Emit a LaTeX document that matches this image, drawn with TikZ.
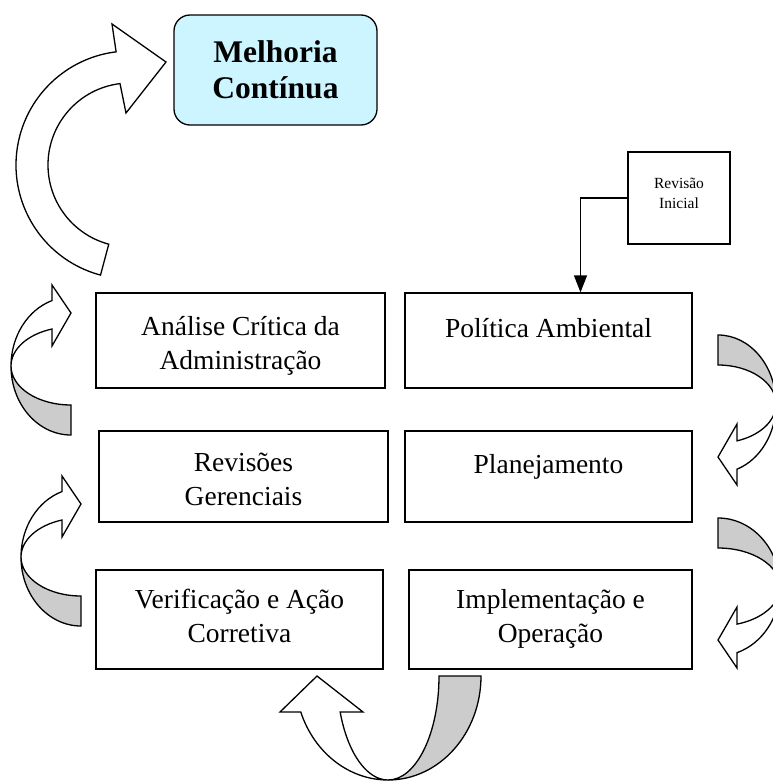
\documentclass[tikz,border=0pt]{standalone}
\usepackage{fontspec}
\setmainfont{Liberation Serif}
\usetikzlibrary{arrows.meta}
\definecolor{mcyan}{HTML}{CCF5FF}
% curved ribbon arrow: #1 A, #2 outer B, #3 inner b, #4 head base x, #5 tip, #6 low corner, #7 high corner
\newcommand{\ribbonarrow}[7]{%
  \pgfmathsetmacro{\rbt}{acos(#4/#1)}
  \filldraw[backface] (-#1,0) arc[start angle=180, end angle=270, x radius=#1pt, y radius=#2pt]
    -- (0,-#3) arc[start angle=270, end angle=180, x radius=#1pt, y radius=#3pt] -- cycle;
  \filldraw[frontface] (-#1,0) arc[start angle=180, end angle=\rbt, x radius=#1pt, y radius=#2pt]
    -- (#4,#7) -- (0,#5) -- (#4,#6) -- ({#4},{#3*sin(\rbt)})
    arc[start angle=\rbt, end angle=180, x radius=#1pt, y radius=#3pt] -- cycle;
}

\begin{document}
\begin{tikzpicture}[x=1pt, y=1pt, line width=1.3pt,
  box/.style={draw, rectangle, minimum width=288pt, minimum height=95pt, align=center, inner sep=0pt,
    text height=58pt, text depth=0pt, font=\fontsize{27.5}{34}\selectfont},
  oneline/.style={text height=24pt, text depth=30pt},
  frontface/.style={draw, fill=white},
  backface/.style={draw, fill=black!20},
  flow/.style={-{Triangle[width=13pt,length=17pt]}}]
  \useasboundingbox (0,0) rectangle (772,-782);

  \node[draw, fill=mcyan, rounded corners=16pt, minimum width=203pt, minimum height=110pt, align=center, font=\bfseries\fontsize{31.5}{36}\selectfont] (melhoria) at (275.5,-70) {Melhoria\\Contínua};
  \node[draw, minimum width=102pt, minimum height=92pt, align=center, text height=33pt, text depth=13pt, font=\fontsize{15.5}{20}\selectfont] (revini) at (679,-198) {Revisão\\Inicial};

  \node[box, minimum width=289pt] (analise) at (240.5,-340.5) {Análise Crítica da\\Administração};
  \node[box, oneline, minimum width=287pt] (politica) at (548.5,-340.5) {Política Ambiental};
  \node[box, minimum width=289pt, minimum height=91pt] (revisoes) at (243.5,-476.5) {Revisões\\Gerenciais};
  \node[box, oneline, minimum width=287pt, minimum height=91pt] (planej) at (548.5,-476.5) {Planejamento};
  \node[box, minimum width=287pt, minimum height=99pt, text depth=12pt] (verif) at (239.5,-619.5) {Verificação e Ação\\Corretiva};
  \node[box, minimum width=283pt, minimum height=99pt, text depth=12pt] (implem) at (550.5,-619.5) {Implementação e\\Operação};

  \draw[flow] (revini.west) -| ([xshift=32pt]politica.north);

  % big arrow to Melhoria
  \draw[frontface] (100.5,-275.1) arc[start angle=255, end angle=97, radius=114pt]
    -- (112,-24) -- (166,-62) -- (126,-113) -- (120,-83.6)
    arc[start angle=97, end angle=255, radius=82pt] -- cycle;

  % side arrows
  \foreach \ox/\oy/\rot/\ra in {71/-366/0/60, 81/-557/0/60, 718/-404/180/58, 718/-587/180/62}
  {
    \begin{scope}[shift={(\ox,\oy)}, rotate=\rot]
      \ribbonarrow{\ra}{69}{39}{-19}{53}{20}{81}
    \end{scope}
  }

  % bottom arrow
  \begin{scope}[shift={(388,-676)}, rotate=90]
    \ribbonarrow{104}{93}{51}{-36}{71}{25}{108}
  \end{scope}
\end{tikzpicture}
\end{document}
